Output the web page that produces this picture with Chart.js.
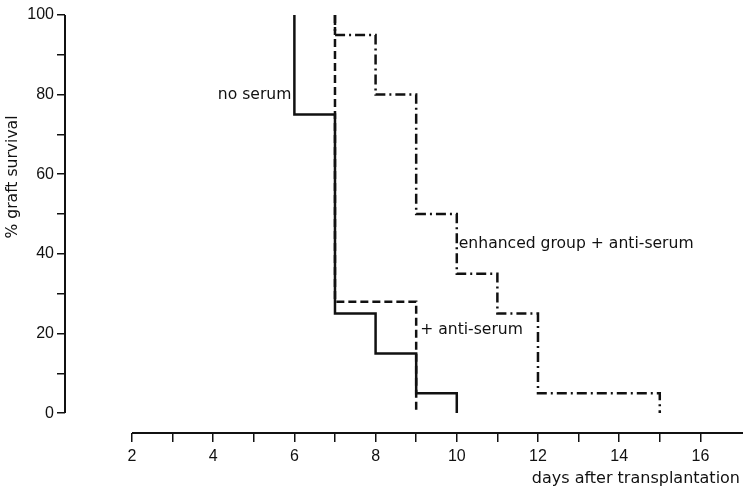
<!DOCTYPE html>
<html>
<head>
<meta charset="utf-8">
<script src="https://cdn.jsdelivr.net/npm/chart.js@4.4.1/dist/chart.umd.min.js"></script>
<style>
  html, body { margin: 0; padding: 0; background: #fff; }
</style>
</head>
<body>
<canvas id="chart" width="743" height="489"></canvas>
<script>
// survival steps: day of each drop and % of grafts still surviving after it
const noSerumDays = [6, 6, 7, 8, 9, 10];
const noSerumPct = [100, 75, 25, 15, 5, 0];
const antiSerumDays = [7, 7, 9];
const antiSerumPct = [100, 28, 0];
const enhancedDays = [7, 7, 8, 9, 10, 11, 12, 15];
const enhancedPct = [100, 95, 80, 50, 35, 25, 5, 0];

const dayTicks = [2, 3, 4, 5, 6, 7, 8, 9, 10, 11, 12, 13, 14, 15, 16];
const pctTicks = [0, 10, 20, 30, 40, 50, 60, 70, 80, 90, 100];

const INK = '#111';
const LABEL_FONT = '15.6px "DejaVu Sans"';
const TICK_FONT = { family: '"Liberation Sans", Arial, sans-serif', size: 16 };

const toPoints = (days, pct) => days.map((d, i) => ({ x: d, y: pct[i] }));

// axis lines (y stops at 0, x starts at day 2) and the in-plot labels
const annotate = {
  id: 'annotate',
  afterDraw(chart) {
    const { ctx, chartArea, scales: { x, y } } = chart;
    ctx.save();
    ctx.strokeStyle = INK;
    ctx.lineWidth = 2;
    ctx.beginPath();
    ctx.moveTo(chartArea.left, y.getPixelForValue(100));
    ctx.lineTo(chartArea.left, y.getPixelForValue(0));
    ctx.moveTo(x.getPixelForValue(2), chartArea.bottom);
    ctx.lineTo(chart.width, chartArea.bottom);
    ctx.stroke();

    ctx.fillStyle = INK;
    ctx.font = LABEL_FONT;
    ctx.textBaseline = 'middle';
    ctx.textAlign = 'right';
    ctx.fillText('no serum', x.getPixelForValue(6) - 3, y.getPixelForValue(80));
    ctx.textAlign = 'left';
    ctx.fillText('enhanced group + anti-serum', x.getPixelForValue(10) + 2, y.getPixelForValue(42.5));
    ctx.fillText('+ anti-serum', x.getPixelForValue(9) + 4, y.getPixelForValue(21));

    // y title
    ctx.translate(13, 177);
    ctx.rotate(-Math.PI / 2);
    ctx.textAlign = 'center';
    ctx.fillText('% graft survival', 0, 0);
    ctx.restore();
  }
};

new Chart(document.getElementById('chart'), {
  type: 'line',
  data: {
    datasets: [
      {
        label: 'no serum',
        data: toPoints(noSerumDays, noSerumPct),
        borderColor: INK,
        borderWidth: 2.5,
      },
      {
        label: '+ anti-serum',
        data: toPoints(antiSerumDays, antiSerumPct),
        borderColor: INK,
        borderWidth: 2.5,
        borderDash: [8, 4],
      },
      {
        label: 'enhanced group + anti-serum',
        data: toPoints(enhancedDays, enhancedPct),
        borderColor: INK,
        borderWidth: 2.5,
        borderDash: [10, 4, 2, 4],
      },
    ],
  },
  options: {
    responsive: false,
    animation: false,
    devicePixelRatio: 1,
    elements: { point: { radius: 0 }, line: { stepped: true, tension: 0, borderCapStyle: 'butt' } },
    layout: { padding: { top: 15, right: 3, left: 0, bottom: 0 }, autoPadding: false },
    plugins: { legend: { display: false }, tooltip: { enabled: false } },
    scales: {
      x: {
        type: 'linear',
        min: 0.35,
        max: 16.976,
        afterBuildTicks: s => { s.ticks = dayTicks.map(v => ({ value: v })); },
        afterFit: s => { s.height = 56; },
        border: { display: false },
        grid: { drawOnChartArea: false, tickLength: 9, color: INK, lineWidth: 1.5 },
        ticks: {
          color: INK, font: TICK_FONT, padding: 5, maxRotation: 0, autoSkip: false,
          callback: v => (v % 2 === 0 ? v : ''),
        },
        title: {
          display: true, text: 'days after transplantation', align: 'end',
          color: INK, font: { family: '"DejaVu Sans"', size: 16 }, padding: { top: 0, bottom: 1 },
        },
      },
      y: {
        min: -5,
        max: 100,
        afterBuildTicks: s => { s.ticks = pctTicks.map(v => ({ value: v })); },
        afterFit: s => { s.width = 65; },
        border: { display: false },
        grid: { drawOnChartArea: false, tickLength: 8, color: INK, lineWidth: 1.5 },
        ticks: {
          color: INK, font: TICK_FONT, padding: 3, autoSkip: false,
          callback: v => (v % 20 === 0 ? v : ''),
        },
      },
    },
  },
  plugins: [annotate],
});
</script>
</body>
</html>
